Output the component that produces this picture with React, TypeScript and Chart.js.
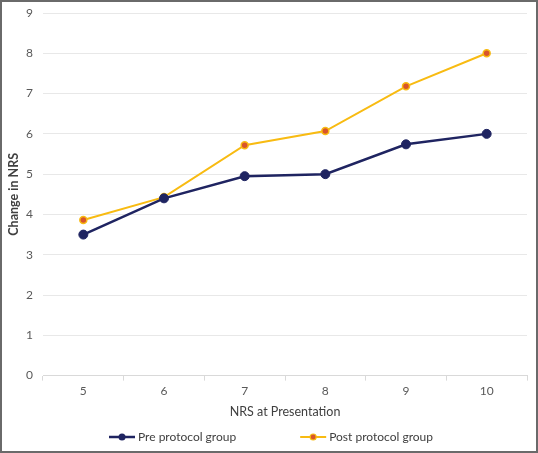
import React, { useEffect, useRef } from "react";
import { Chart, registerables } from "chart.js";

Chart.register(...registerables);

const categories = ["5", "6", "7", "8", "9", "10"];
const preProtocol = [3.5, 4.4, 4.95, 5.0, 5.74, 6.0];
const postProtocol = [3.86, 4.43, 5.72, 6.07, 7.18, 8.0];
const seriesNames = ["Pre protocol group", "Post protocol group"];
const xTitle = "NRS at Presentation";
const yTitle = "Change in NRS";

const NAVY = "#1f2461";
const GOLD = "#f8bb12";
const ORANGE = "#d8552b";
const FONT = "Lato, 'Open Sans', sans-serif";

const legendPlugin = {
  id: "lineDotLegend",
  afterDraw(chart: any) {
    const ctx = chart.ctx as CanvasRenderingContext2D;
    const sets = chart.data.datasets;
    const symW = 26;
    const gapText = 3;
    const gapItem = 64;
    ctx.save();
    ctx.font = `12px ${FONT}`;
    const widths = sets.map((d: any) => ctx.measureText(d.label).width);
    const total = widths.reduce((a: number, w: number) => a + symW + gapText + w, 0) + gapItem * (sets.length - 1);
    let x = chart.width / 2 - total / 2 + 2;
    const y = 435;
    sets.forEach((d: any, i: number) => {
      ctx.strokeStyle = d.borderColor;
      ctx.lineWidth = d.borderWidth;
      ctx.beginPath();
      ctx.moveTo(x, y);
      ctx.lineTo(x + symW, y);
      ctx.stroke();
      ctx.beginPath();
      ctx.arc(x + symW / 2, y, i === 0 ? 3.5 : 3, 0, Math.PI * 2);
      ctx.fillStyle = d.pointBackgroundColor;
      ctx.fill();
      if (d.pointBorderColor !== d.pointBackgroundColor) {
        ctx.strokeStyle = d.pointBorderColor;
        ctx.lineWidth = 1.2;
        ctx.stroke();
      }
      ctx.fillStyle = "#404040";
      ctx.textAlign = "left";
      ctx.textBaseline = "middle";
      ctx.fillText(d.label, x + symW + gapText, y);
      x += symW + gapText + widths[i] + gapItem;
    });
    ctx.restore();
  },
};

export default function App() {
  const ref = useRef<HTMLCanvasElement | null>(null);
  useEffect(() => {
    if (!ref.current) return;
    const chart = new Chart(ref.current, {
      type: "line",
      data: {
        labels: categories,
        datasets: [
          {
            label: seriesNames[0],
            data: preProtocol,
            borderColor: NAVY,
            backgroundColor: NAVY,
            borderWidth: 2.5,
            pointRadius: 4.5,
            pointBackgroundColor: NAVY,
            pointBorderColor: NAVY,
            pointBorderWidth: 1,
            pointStyle: "circle",
            tension: 0,
          },
          {
            label: seriesNames[1],
            data: postProtocol,
            borderColor: GOLD,
            backgroundColor: ORANGE,
            borderWidth: 2,
            pointRadius: 3.5,
            pointBackgroundColor: ORANGE,
            pointBorderColor: GOLD,
            pointBorderWidth: 1.5,
            pointStyle: "circle",
            tension: 0,
          },
        ],
      },
      plugins: [legendPlugin],
      options: {
        animation: false,
        responsive: false,
        maintainAspectRatio: false,
        layout: { padding: { top: 11, right: 9, left: 0, bottom: 27 } },
        plugins: {
          tooltip: { enabled: false },
          legend: { display: false },
        },
        scales: {
          x: {
            offset: true,
            grid: {
              offset: true,
              drawOnChartArea: false,
              drawTicks: true,
              tickLength: 5,
              color: "#d9d9d9",
            },
            border: { display: true, color: "#d9d9d9" },
            ticks: { color: "#595959", font: { family: FONT, size: 12 }, padding: 3 },
            title: {
              display: true,
              text: xTitle,
              color: "#404040",
              font: { family: FONT, size: 12.5 },
              padding: { top: 3, bottom: 5 },
            },
          },
          y: {
            min: 0,
            max: 9,
            ticks: { stepSize: 1, color: "#595959", font: { family: FONT, size: 12 }, padding: 10 },
            grid: { color: "#e8e8e8", drawTicks: false, lineWidth: 1 },
            border: { display: false },
            title: {
              display: true,
              text: yTitle,
              color: "#404040",
              font: { family: FONT, size: 12.5, weight: "bold" },
              padding: { top: 4, bottom: 6 },
            },
            afterFit: (s: any) => {
              s.width = 41;
              s.paddingTop = 0;
              s.paddingBottom = 0;
            },
          },
        },
      },
    });
    return () => chart.destroy();
  }, []);
  return (
    <div
      style={{
        position: "fixed",
        left: 0,
        top: 0,
        width: 538,
        height: 453,
        boxSizing: "border-box",
        border: "2px solid #6a6a6a",
        background: "#ffffff",
      }}
    >
      <canvas ref={ref} width={534} height={449} style={{ display: "block" }} />
    </div>
  );
}
